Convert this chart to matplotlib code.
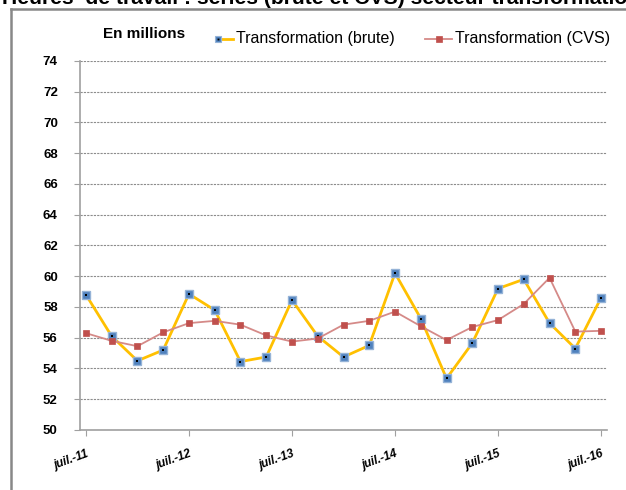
import matplotlib
matplotlib.use("Agg")
import matplotlib.pyplot as plt
from matplotlib.lines import Line2D

# Heures de travail, secteur transformation (en millions), trimestriel
quarters = ["juil.-11", "oct.-11", "janv.-12", "avr.-12", "juil.-12", "oct.-12",
            "janv.-13", "avr.-13", "juil.-13", "oct.-13", "janv.-14", "avr.-14",
            "juil.-14", "oct.-14", "janv.-15", "avr.-15", "juil.-15", "oct.-15",
            "janv.-16", "avr.-16", "juil.-16"]
brute = [58.8, 56.1, 54.5, 55.2, 58.85, 57.8, 54.45, 54.75, 58.45, 56.1, 54.75,
         55.5, 60.2, 57.25, 53.35, 55.65, 59.2, 59.8, 56.95, 55.3, 58.6]
cvs = [56.3, 55.8, 55.45, 56.35, 56.95, 57.1, 56.85, 56.15, 55.75, 55.95, 56.85,
       57.1, 57.7, 56.75, 55.85, 56.7, 57.15, 58.2, 59.9, 56.4, 56.45]
tick_idx = [0, 4, 8, 12, 16, 20]
yticks = list(range(50, 75, 2))

W, H = 626, 490
fig = plt.figure(figsize=(W / 100, H / 100), dpi=100)
ax = fig.add_axes([80 / W, 1 - 430 / H, 527 / W, 369 / H])

x = list(range(len(quarters)))

# serie brute (jaune, marqueurs bleus avec point noir)
ax.plot(x, brute, color="#FFC000", lw=2.0, zorder=3)
ax.plot(x, brute, ls="none", marker="s", ms=5.5, mfc="#4F81BD",
        mec="#95B3D7", mew=1.0, zorder=4)
ax.plot(x, brute, ls="none", marker="s", ms=1.6, mfc="black", mec="black",
        mew=0, zorder=5)

# serie CVS (rouge)
ax.plot(x, cvs, color="#D58A88", lw=1.3, zorder=6)
ax.plot(x, cvs, ls="none", marker="s", ms=5, mfc="#C0504D", mec="#C0504D",
        mew=0.5, zorder=7)

ax.set_xlim(-0.23, 20.23)
ax.set_ylim(50, 74)
ax.set_yticks(yticks)
ax.set_yticklabels([str(v) for v in yticks], fontsize=9.5, fontweight="bold",
                   family="Liberation Sans")
ax.set_xticks(tick_idx)
ax.set_xticklabels([quarters[i] for i in tick_idx], fontsize=8.5,
                   fontweight="bold", style="italic", rotation=20,
                   family="Liberation Sans")
for lab in ax.get_xticklabels():
    lab.set_horizontalalignment("right")
    lab.set_rotation_mode("anchor")
ax.tick_params(axis="y", length=4, width=0.8, color="#A0A0A0", pad=12)
ax.tick_params(axis="x", length=4, width=0.8, color="#A0A0A0", pad=9)

ax.grid(axis="y", color="#8C8C8C", ls=(0, (2, 1)), lw=0.8)
ax.set_axisbelow(True)
for side in ["top", "right"]:
    ax.spines[side].set_visible(False)
for side in ["left", "bottom"]:
    ax.spines[side].set_color("#A0A0A0")
    ax.spines[side].set_linewidth(1.2)

# cadre et titre coupe (comme dans l'original)
fig.add_artist(Line2D([11 / W, 11 / W], [0, 1 - 9 / H], color="#888888", lw=1.8))
fig.add_artist(Line2D([11 / W, 1], [1 - 9 / H, 1 - 9 / H], color="#888888", lw=1.8))
fig.text(2 / W, 1 - 4.5 / H, "Heures  de travail : séries (brute et CVS) secteur transformation",
         fontsize=15.2, fontweight="bold", family="Liberation Sans", va="baseline")

fig.text(103 / W, 1 - 34 / H, "En millions", fontsize=11, fontweight="bold",
         family="Liberation Sans", va="center")

# legende manuelle
ly = 1 - 39 / H
fig.add_artist(Line2D([218 / W, 233 / W], [ly, ly], color="#FFC000", lw=2))
fig.add_artist(Line2D([218 / W], [ly], ls="none", marker="s", ms=4, mfc="#4F81BD",
                      mec="#95B3D7", mew=0.8))
fig.add_artist(Line2D([218 / W], [ly], ls="none", marker="s", ms=1.4, mfc="black",
                      mec="black", mew=0))
fig.text(236 / W, ly, "Transformation (brute)", fontsize=11.5,
         family="Liberation Sans", va="center")
fig.add_artist(Line2D([425 / W, 452 / W], [ly, ly], color="#D58A88", lw=1.3))
fig.add_artist(Line2D([438.5 / W], [ly], ls="none", marker="s", ms=4, mfc="#C0504D",
                      mec="#C0504D", mew=0.5))
fig.text(455 / W, ly, "Transformation (CVS)", fontsize=11.5,
         family="Liberation Sans", va="center")

fig.savefig("out.png", dpi=100)
